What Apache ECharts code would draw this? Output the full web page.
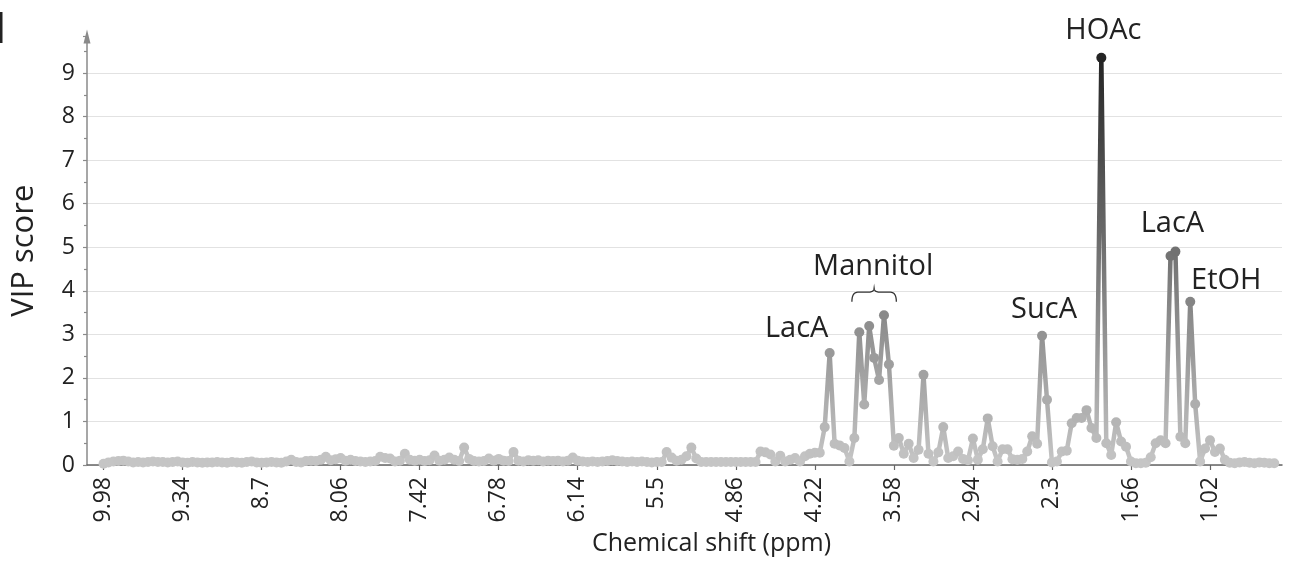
<!DOCTYPE html>
<html>
<head>
<meta charset="utf-8">
<script src="https://cdn.jsdelivr.net/npm/echarts@6/dist/echarts.min.js"></script>
<style>
  html, body { margin: 0; padding: 0; background: #ffffff; }
  #chart { width: 1293px; height: 580px; }
</style>
</head>
<body>
<div id="chart"></div>
<script>
// NMR buckets: 0.04 ppm wide, starting at 9.98 ppm and running downfield to upfield
const firstShift = 9.98;
const binWidth = 0.04;

// VIP score of each bucket, in bucket order
const vipScores = [
  0.03, 0.06, 0.08, 0.09, 0.10, 0.08, 0.06, 0.07, 0.06, 0.07,
  0.08, 0.07, 0.07, 0.06, 0.07, 0.08, 0.06, 0.05, 0.07, 0.06,
  0.05, 0.06, 0.06, 0.07, 0.06, 0.05, 0.07, 0.06, 0.05, 0.07,
  0.08, 0.06, 0.05, 0.06, 0.07, 0.06, 0.05, 0.08, 0.12, 0.07,
  0.06, 0.09, 0.10, 0.09, 0.12, 0.19, 0.11, 0.13, 0.16, 0.10,
  0.12, 0.09, 0.08, 0.07, 0.08, 0.09, 0.19, 0.16, 0.15, 0.08,
  0.10, 0.26, 0.12, 0.10, 0.12, 0.09, 0.11, 0.22, 0.10, 0.12,
  0.17, 0.12, 0.09, 0.40, 0.14, 0.09, 0.08, 0.09, 0.15, 0.10,
  0.14, 0.10, 0.09, 0.30, 0.10, 0.08, 0.11, 0.10, 0.11, 0.08,
  0.10, 0.09, 0.10, 0.08, 0.10, 0.17, 0.10, 0.08, 0.07, 0.08,
  0.07, 0.08, 0.09, 0.11, 0.09, 0.08, 0.07, 0.08, 0.07, 0.08,
  0.07, 0.06, 0.07, 0.07, 0.30, 0.17, 0.10, 0.12, 0.20, 0.40,
  0.15, 0.07, 0.07, 0.07, 0.07, 0.07, 0.07, 0.07, 0.07, 0.07,
  0.07, 0.07, 0.07, 0.31, 0.29, 0.24, 0.08, 0.21, 0.08, 0.12,
  0.16, 0.08, 0.20, 0.26, 0.28, 0.28, 0.87, 2.57, 0.49, 0.45,
  0.39, 0.08, 0.62, 3.05, 1.39, 3.19, 2.46, 1.95, 3.44, 2.31,
  0.44, 0.62, 0.26, 0.49, 0.16, 0.35, 2.07, 0.26, 0.08, 0.29,
  0.87, 0.16, 0.20, 0.31, 0.14, 0.11, 0.61, 0.12, 0.36, 1.07,
  0.43, 0.08, 0.36, 0.36, 0.13, 0.12, 0.14, 0.31, 0.66, 0.49,
  2.97, 1.50, 0.06, 0.08, 0.31, 0.33, 0.96, 1.08, 1.08, 1.26,
  0.85, 0.62, 9.35, 0.50, 0.23, 0.98, 0.54, 0.42, 0.08, 0.04,
  0.04, 0.05, 0.18, 0.50, 0.57, 0.50, 4.80, 4.90, 0.65, 0.50,
  3.75, 1.40, 0.08, 0.38, 0.57, 0.30, 0.38, 0.12, 0.05, 0.04,
  0.06, 0.07, 0.05, 0.04, 0.06, 0.05, 0.04, 0.04
];

// chemical shift of each bucket
const shifts = vipScores.map((_, i) => +(firstShift - binWidth * i).toFixed(2));

// labelled shifts along the x axis
const shiftTicks = [9.98, 9.34, 8.7, 8.06, 7.42, 6.78, 6.14, 5.5, 4.86, 4.22, 3.58, 2.94, 2.3, 1.66, 1.02];

// assigned metabolites and the bucket each name sits over
const peakNames = ['HOAc', 'LacA', 'EtOH', 'SucA', 'LacA', 'Mannitol'];
const peakShifts = [1.90, 1.30, 1.18, 2.38, 4.10, 3.78];

// shift range grouped under the Mannitol brace
const mannitolRange = [3.92, 3.56];

const vipAt = s => vipScores[Math.round((firstShift - s) / binWidth)];

// label placement relative to its peak, in pixels
const peakLabelOffsets = [[2, -27], [-3, -28], [36, -21], [2, -26], [-33, -24], [4, -59]];

const FONT = '"Open Sans", "Noto Sans", sans-serif';
const TEXT = '#222222';

const chart = echarts.init(document.getElementById('chart'), null, { renderer: 'canvas' });

chart.setOption({
  animation: false,
  backgroundColor: '#ffffff',
  grid: { left: 87, right: 11, top: 36.5, bottom: 115, containLabel: false },
  visualMap: {
    show: false,
    type: 'continuous',
    seriesIndex: 0,
    dimension: 1,
    min: 0,
    max: 9.35,
    inRange: { color: ['#c6c6c6', '#242424'] }
  },
  xAxis: {
    type: 'value',
    inverse: true,
    min: 0.437,
    max: 10.114,
    name: 'Chemical shift (ppm)',
    nameLocation: 'middle',
    nameGap: 66,
    nameTextStyle: { fontFamily: FONT, fontSize: 25, color: TEXT, padding: [0, 0, 0, 54] },
    axisLine: { show: true, lineStyle: { color: '#666666', width: 1.5 } },
    axisTick: { show: true, length: 5, customValues: shiftTicks, lineStyle: { color: '#666666', width: 1.2 } },
    axisLabel: {
      customValues: shiftTicks,
      rotate: 90,
      margin: 12,
      fontFamily: FONT,
      fontSize: 23,
      color: TEXT,
      formatter: v => String(v)
    },
    splitLine: { show: false }
  },
  yAxis: {
    type: 'value',
    min: 0,
    max: 9.84,
    interval: 1,
    name: 'VIP score',
    nameLocation: 'middle',
    nameGap: 47,
    nameTextStyle: { fontFamily: FONT, fontSize: 31, color: TEXT },
    axisLine: {
      show: true,
      symbol: ['none', 'triangle'],
      symbolSize: [7, 14],
      lineStyle: { color: '#8a8a8a', width: 1.5 }
    },
    axisTick: { show: true, length: 4, lineStyle: { color: '#8a8a8a', width: 1.2 } },
    minorTick: { show: true, splitNumber: 2, length: 3, lineStyle: { color: '#8a8a8a', width: 1.2 } },
    axisLabel: { showMaxLabel: false, margin: 12, fontFamily: FONT, fontSize: 23, color: TEXT },
    splitLine: { show: true, showMaxLine: false, lineStyle: { color: '#e2e2e2', width: 1.2 } }
  },
  series: [{
    type: 'line',
    data: shifts.map((s, i) => [s, vipScores[i]]),
    symbol: 'circle',
    symbolSize: 10,
    showSymbol: true,
    showAllSymbol: true,
    lineStyle: { width: 4.5, join: 'round', cap: 'round' },
    itemStyle: { borderWidth: 0 },
    markPoint: {
      symbol: 'circle',
      symbolSize: 0,
      silent: true,
      label: { show: true, position: 'inside', fontFamily: FONT, fontSize: 29, color: TEXT },
      data: peakNames.map((name, k) => ({
        name: name,
        coord: [peakShifts[k], vipAt(peakShifts[k])],
        label: { formatter: name, offset: peakLabelOffsets[k] }
      }))
    }
  }]
});

// points along a quadratic curve from a to b with control c
function quad(a, c, b, steps) {
  const pts = [];
  for (let k = 0; k <= steps; k++) {
    const t = k / steps, u = 1 - t;
    pts.push([u * u * a[0] + 2 * u * t * c[0] + t * t * b[0], u * u * a[1] + 2 * u * t * c[1] + t * t * b[1]]);
  }
  return pts;
}

// brace over the Mannitol signals, placed through the axis scales
function drawBrace() {
  const mid = (mannitolRange[0] + mannitolRange[1]) / 2;
  const pLeft = chart.convertToPixel({ gridIndex: 0 }, [mannitolRange[0], 4.06]);
  const pRight = chart.convertToPixel({ gridIndex: 0 }, [mannitolRange[1], 4.06]);
  const pMid = chart.convertToPixel({ gridIndex: 0 }, [mid, 4.06]);
  const x0 = pLeft[0], x1 = pRight[0], xm = pMid[0];
  const yt = pMid[1], yh = yt + 4, ye = yt + 13.5, r = 6;
  const pts = [].concat(
    quad([x0, ye], [x0, yh], [x0 + r, yh], 8),
    quad([xm - r, yh], [xm, yh], [xm, yt], 6),
    quad([xm, yt], [xm, yh], [xm + r, yh], 6),
    quad([x1 - r, yh], [x1, yh], [x1, ye], 8)
  );
  chart.setOption({
    graphic: [
      { type: 'polyline', shape: { points: pts }, style: { fill: null, stroke: '#333333', lineWidth: 1.3 }, silent: true },
      { type: 'rect', left: 0, top: 12, shape: { width: 2.5, height: 31 }, style: { fill: '#222222' }, silent: true }
    ]
  });
}
drawBrace();
</script>
</body>
</html>
